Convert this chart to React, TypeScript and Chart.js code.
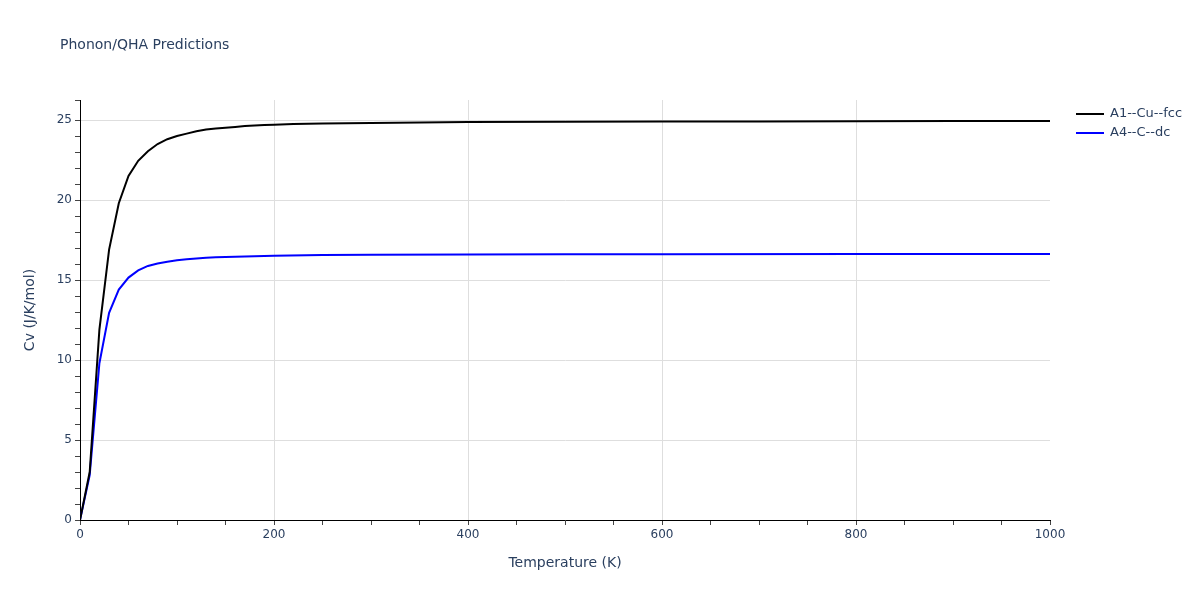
import React, { useEffect, useRef } from "react";
import { Chart, registerables } from "chart.js";

Chart.register(...registerables);

const chartTitle = "Phonon/QHA Predictions";
const xAxisTitle = "Temperature (K)";
const yAxisTitle = "Cv (J/K/mol)";

const seriesNames = ["A1--Cu--fcc", "A4--C--dc"];
const seriesColors = ["#000000", "#0000ff"];

const cuTemps = [0, 10, 20, 30, 40, 50, 60, 70, 80, 90, 100, 110, 120, 130, 140, 150, 160, 170, 180, 190, 200, 220, 250, 300, 350, 400, 500, 600, 700, 800, 900, 1000];
const cuCv = [0, 3.0, 11.9, 16.9, 19.8, 21.5, 22.45, 23.05, 23.5, 23.8, 24.0, 24.15, 24.3, 24.4, 24.47, 24.52, 24.57, 24.62, 24.65, 24.68, 24.71, 24.75, 24.78, 24.82, 24.85, 24.87, 24.89, 24.9, 24.91, 24.92, 24.93, 24.94];

const cTemps = [0, 10, 20, 30, 40, 50, 60, 70, 80, 90, 100, 110, 120, 130, 140, 150, 160, 180, 200, 250, 300, 400, 500, 600, 800, 1000];
const cCv = [0, 2.8, 9.8, 12.95, 14.4, 15.15, 15.6, 15.88, 16.03, 16.14, 16.23, 16.3, 16.35, 16.39, 16.42, 16.44, 16.46, 16.49, 16.52, 16.56, 16.58, 16.6, 16.61, 16.615, 16.62, 16.625];

const xMin = 0;
const xMax = 1000;
const yMin = 0;
const yMax = 26.25;

const textColor = "#2a3f5f";
const gridColor = "#dedede";
const fontFamily = "'DejaVu Sans', Verdana, sans-serif";

export default function App() {
  const canvasRef = useRef<HTMLCanvasElement | null>(null);

  useEffect(() => {
    document.body.style.margin = "0";
    const canvas = canvasRef.current;
    if (!canvas) return;

    const overlay = {
      id: "overlay",
      afterDraw(chart: any) {
        const ctx = chart.ctx;
        const area = chart.chartArea;
        ctx.save();
        ctx.fillStyle = textColor;
        ctx.textBaseline = "middle";
        // title
        ctx.font = `14px ${fontFamily}`;
        ctx.textAlign = "left";
        ctx.fillText(chartTitle, 60, 45);
        // x title
        ctx.font = `14px ${fontFamily}`;
        ctx.textAlign = "center";
        ctx.fillText(xAxisTitle, (area.left + area.right) / 2, 563);
        // y title
        ctx.save();
        ctx.translate(30, (area.top + area.bottom) / 2);
        ctx.rotate(-Math.PI / 2);
        ctx.fillText(yAxisTitle, 0, 0);
        ctx.restore();
        // legend
        ctx.font = `13px ${fontFamily}`;
        ctx.textAlign = "left";
        seriesNames.forEach((name, i) => {
          const y = 114 + i * 19;
          ctx.strokeStyle = seriesColors[i];
          ctx.lineWidth = 2;
          ctx.beginPath();
          ctx.moveTo(1076, y);
          ctx.lineTo(1104, y);
          ctx.stroke();
          ctx.fillStyle = textColor;
          ctx.fillText(name, 1110, y);
        });
        ctx.restore();
      },
    };

    const chart = new Chart(canvas, {
      type: "line",
      data: {
        datasets: [
          {
            label: seriesNames[0],
            data: cuTemps.map((t, i) => ({ x: t, y: cuCv[i] })),
            borderColor: seriesColors[0],
            backgroundColor: seriesColors[0],
            borderWidth: 2,
            pointRadius: 0,
            tension: 0,
            fill: false,
          },
          {
            label: seriesNames[1],
            data: cTemps.map((t, i) => ({ x: t, y: cCv[i] })),
            borderColor: seriesColors[1],
            backgroundColor: seriesColors[1],
            borderWidth: 2,
            pointRadius: 0,
            tension: 0,
            fill: false,
          },
        ],
      },
      options: {
        responsive: false,
        animation: false,
        layout: { padding: { left: 0, right: 150, top: 100, bottom: 0 } },
        plugins: {
          legend: { display: false },
          title: { display: false },
          tooltip: { enabled: false },
        },
        scales: {
          x: {
            type: "linear",
            min: xMin,
            max: xMax,
            afterFit: (s: any) => {
              s.height = 80;
            },
            border: { color: "#000", width: 1 },
            grid: {
              color: (c: any) => {
                const v = c.tick?.value;
                return v % 200 === 0 && v !== 0 && v !== 1000 ? gridColor : "rgba(0,0,0,0)";
              },
              tickColor: "#444",
              tickLength: 5,
              lineWidth: 1,
            },
            ticks: {
              stepSize: 50,
              autoSkip: false,
              maxRotation: 0,
              padding: 3,
              color: textColor,
              font: { family: fontFamily, size: 12 },
              callback: (v: any) => (Number(v) % 200 === 0 ? String(v) : ""),
            },
          },
          y: {
            type: "linear",
            min: yMin,
            max: yMax,
            afterFit: (s: any) => {
              s.width = 80;
            },
            border: { color: "#000", width: 1 },
            grid: {
              color: (c: any) => {
                const v = c.tick?.value;
                return v % 5 === 0 && v !== 0 ? gridColor : "rgba(0,0,0,0)";
              },
              tickColor: "#444",
              tickLength: 5,
              lineWidth: 1,
            },
            ticks: {
              stepSize: 1,
              autoSkip: false,
              padding: 3,
              color: textColor,
              font: { family: fontFamily, size: 12 },
              callback: (v: any) => (Number(v) % 5 === 0 ? String(v) : ""),
            },
          },
        },
      },
      plugins: [overlay],
    } as any);

    return () => {
      chart.destroy();
    };
  }, []);

  return (
    <div style={{ position: "absolute", left: 0, top: 0, width: 1200, height: 600, background: "#fff" }}>
      <canvas ref={canvasRef} width={1200} height={600} style={{ width: 1200, height: 600 }} />
    </div>
  );
}
